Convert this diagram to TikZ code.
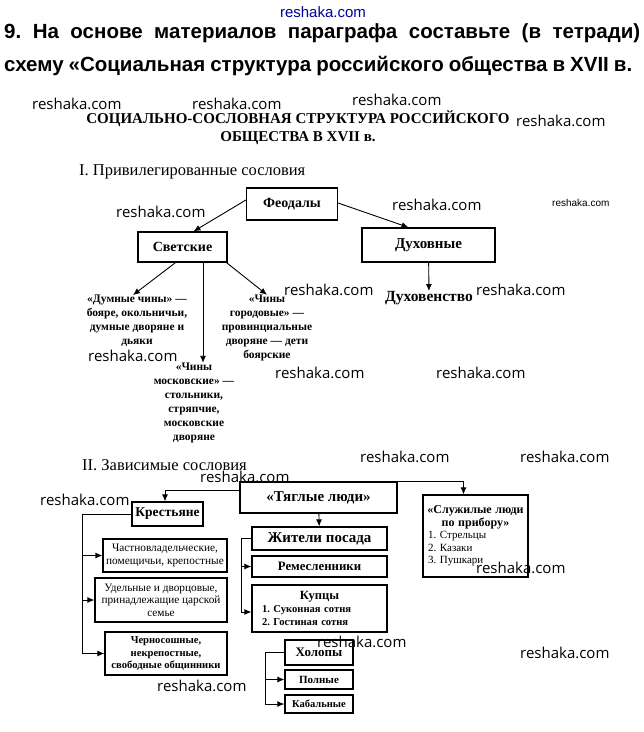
\documentclass[tikz,border=0pt]{standalone}
\usepackage{fontspec}
\setmainfont{Liberation Serif}
\newfontfamily\headfont{Liberation Sans}
\newfontfamily\wmfont{Open Sans}
\usetikzlibrary{arrows.meta}
\newcommand{\fsize}[2]{\fontsize{#1}{#2}\selectfont}
\frenchspacing

\tikzset{
  box/.style={draw, line width=1.2pt, inner sep=0pt, align=center},
  lbl/.style={font=\bfseries\fsize{14}{16}},
  small/.style={font=\bfseries\fsize{11.5}{14}, align=center, inner sep=0pt},
  peas/.style={font=\fsize{11.3}{12.5}},
  conn/.style={line width=0.9pt},
  arr/.style={conn, -{Latex[length=7pt,width=6pt]}},
  wm/.style={font=\wmfont\fsize{15}{15}, inner sep=0pt, anchor=west},
}

\begin{document}
\begin{tikzpicture}[x=1pt,y=-1pt]
  \useasboundingbox (0,0) rectangle (644,732);

  % задание
  \node[font=\headfont\color{blue!60!black}\fsize{15}{15}, inner sep=0pt] (wmtop) at (323,12) {reshaka.com};
  \node[anchor=west, inner sep=0pt, font=\headfont\bfseries\fsize{20.5}{20}] (task1) at (4,33)
    {\makebox[636pt][s]{9. На основе материалов параграфа составьте (в тетради)}};
  \node[anchor=west, inner sep=0pt, font=\headfont\bfseries\fsize{20.5}{20}] (task2) at (4,66)
    {\makebox[628pt][s]{схему «Социальная структура российского общества в XVII в.}};

  % заголовок схемы
  \node[inner sep=0pt, font=\bfseries\fsize{15}{15}] (title1) at (298,119) {СОЦИАЛЬНО-СОСЛОВНАЯ СТРУКТУРА РОССИЙСКОГО};
  \node[inner sep=0pt, font=\bfseries\fsize{15}{15}] (title2) at (298,138) {ОБЩЕСТВА В XVII в.};

  % I. привилегированные
  \node[anchor=west, inner sep=0pt, font=\fsize{16.5}{16}] (sec1) at (79,172) {I. Привилегированные сословия};
  \node[box, lbl, minimum width=91, minimum height=32] (feod) at (292,204) {Феодалы};
  \node[box, lbl, minimum width=89, minimum height=30] (svet) at (182.5,247) {Светские};
  \node[box, lbl, font=\bfseries\fsize{15}{16}, minimum width=133, minimum height=34] (duh) at (428.5,245) {Духовные};
  \node[lbl, font=\bfseries\fsize{15.5}{16}, inner sep=0pt] (duhov) at (429,298) {Духовенство};
  \node[small] (dumn) at (137,321) {«Думные чины» —\\бояре, окольничьи,\\думные дворяне и\\дьяки};
  \node[small] (gorod) at (267,328) {«Чины\\городовые» —\\провинциальные\\дворяне — дети\\боярские};
  \node[small] (mosk) at (194,403) {«Чины\\московские» —\\стольники,\\стряпчие,\\московские\\дворяне};

  \draw[arr] ([yshift=4]feod.west) -- ([xshift=11]svet.north);
  \draw[arr] ([yshift=1]feod.east) -- ([xshift=-20]duh.north);
  \draw[arr] (duh) -- (duhov);
  \draw[arr] ([xshift=-7]svet.south) -- ([xshift=-4]dumn.north);
  \draw[arr] ([xshift=20.5]svet.south) -- ([xshift=9]mosk.north);
  \draw[arr] ([xshift=44]svet.south) -- (gorod.north);

  % II. зависимые
  \node[anchor=west, inner sep=0pt, font=\fsize{16.5}{16}] (sec2) at (82,465) {II. Зависимые сословия};
  \node[box, lbl, font=\bfseries\fsize{15}{16}, minimum width=157, minimum height=31] (tyag) at (318.5,497.5) {«Тяглые люди»};
  \node[box, font=\bfseries\fsize{13.5}{14}, minimum width=71, minimum height=24] (krest) at (167.5,514) {Крестьяне};
  \node[box, minimum width=105, minimum height=82, text width=95, align=left, font=\fsize{11}{12.5}] (sluzh) at (475.5,536)
    {\makebox[\hsize]{\bfseries\fsize{12}{13.5}«Служилые люди}\\\makebox[\hsize]{\bfseries\fsize{12}{13.5}по прибору»}\\1. Стрельцы\\2. Казаки\\3. Пушкари};
  \node[box, lbl, font=\bfseries\fsize{15}{16}, minimum width=135, minimum height=23] (zhit) at (319.5,538.5) {Жители посада};
  \node[box, font=\bfseries\fsize{12.8}{13}, minimum width=135, minimum height=21] (rem) at (319.5,566.5) {Ремесленники};
  \node[box, minimum width=135, minimum height=47, text width=115, align=left, font=\bfseries\fsize{10.6}{13}] (kup) at (319.5,608.5)
    {\makebox[\hsize]{\fsize{12.5}{14}Купцы}\\1. Суконная сотня\\2. Гостиная сотня};
  \node[box, font=\bfseries\fsize{13}{16}, minimum width=68, minimum height=25] (holop) at (319,652.5) {Холопы};
  \node[box, font=\bfseries\fsize{11}{13}, minimum width=68, minimum height=19] (poln) at (319,679.5) {Полные};
  \node[box, font=\bfseries\fsize{10.5}{13}, minimum width=68, minimum height=18] (kabal) at (319,704) {Кабальные};
  \node[box, peas, minimum width=124, minimum height=33] (chast) at (165,555.5) {Частновладельческие,\\помещичьи, крепостные};
  \node[box, peas, minimum width=132, minimum height=44] (udel) at (161,600) {Удельные и дворцовые,\\принадлежащие царской\\семье};
  \node[box, peas, font=\bfseries\fsize{10.6}{12.5}, minimum width=122, minimum height=43] (chern) at (166,653.5) {Черносошные,\\некрепостные,\\свободные общинники};

  \draw[arr] ([yshift=7.5]tyag.west) -| ([xshift=-2.5]krest.north);
  \draw[arr] (tyag.north east) -| ([xshift=-12]sluzh.north);
  \draw[arr] (tyag) -- (zhit);
  \draw[conn] (zhit.west) -- ++(-10,0) coordinate (zhitbus);
  \draw[arr] (zhitbus) |- (rem.west);
  \draw[arr] (zhitbus) |- ([yshift=-3.5]kup.west);
  \draw[conn] (holop.west) -- ++(-19,0) coordinate (holopbus);
  \draw[arr] (holopbus) |- (poln.west);
  \draw[arr] (holopbus) |- (kabal.west);
  \draw[conn] (krest.west) -- ++(-49,0) coordinate (krestbus);
  \draw[arr] (krestbus) |- (chast.west);
  \draw[arr] (krestbus) |- (udel.west);
  \draw[arr] (krestbus) |- (chern.west);

  % водяные знаки
  \foreach \wx/\wy [count=\i] in {32/104, 192/104, 352/100, 516/121, 116/212, 392/205,
      284/290, 476/290, 88/356, 275/373, 436/373, 360/457, 520/457, 200/477,
      40/500, 476/568, 317/642, 520/653, 157/686}
    \node[wm] (wm\i) at (\wx,\wy) {reshaka.com};
  \node[wm, font=\headfont\fsize{10}{10}] (wmsmall) at (552,203) {reshaka.com};
\end{tikzpicture}
\end{document}
